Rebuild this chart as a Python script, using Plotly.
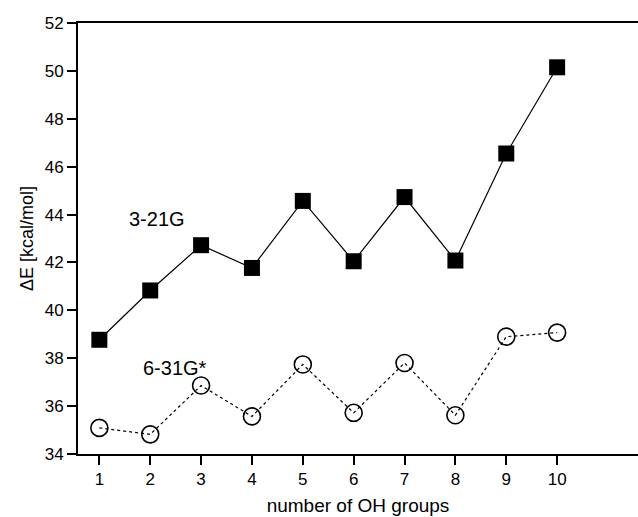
import plotly.graph_objects as go

n_oh = [1, 2, 3, 4, 5, 6, 7, 8, 9, 10]
e_321g = [38.77, 40.83, 42.72, 41.77, 44.57, 42.05, 44.73, 42.08, 46.55, 50.15]
e_631g = [35.09, 34.82, 36.86, 35.57, 37.74, 35.72, 37.8, 35.62, 38.9, 39.07]

label_321g = "3-21G"
label_631g = "6-31G*"

font_family = "Liberation Sans, Arial, sans-serif"

fig = go.Figure()
fig.add_trace(go.Scatter(
    x=n_oh, y=e_321g, mode="lines+markers", name=label_321g,
    line=dict(color="black", width=1.2),
    marker=dict(symbol="square", size=16, color="black", line=dict(width=0)),
    showlegend=False,
))
fig.add_trace(go.Scatter(
    x=n_oh, y=e_631g, mode="lines+markers", name=label_631g,
    line=dict(color="black", width=1.2, dash="dot"),
    marker=dict(symbol="circle-open", size=17, color="black", line=dict(width=1.6, color="black")),
    showlegend=False,
))

fig.add_annotation(x=2.14, y=43.8, text=label_321g, showarrow=False,
                   font=dict(size=20, color="black", family=font_family))
fig.add_annotation(x=2.49, y=37.58, text=label_631g, showarrow=False,
                   font=dict(size=20, color="black", family=font_family))

fig.update_layout(
    width=638, height=517,
    margin=dict(l=78, r=0, t=23, b=63),
    plot_bgcolor="white", paper_bgcolor="white",
    font=dict(family=font_family, color="black"),
)
fig.update_xaxes(
    range=[0.58, 11.59], tickvals=n_oh, ticktext=[str(v) for v in n_oh],
    showgrid=False, zeroline=False,
    showline=True, linecolor="black", linewidth=2, mirror=True,
    ticks="outside", ticklen=9, tickwidth=2, tickcolor="black",
    tickfont=dict(size=17),
    title=dict(text="number of OH groups", font=dict(size=19), standoff=10),
)
fig.update_yaxes(
    range=[34, 52], tickvals=[34, 36, 38, 40, 42, 44, 46, 48, 50, 52],
    showgrid=False, zeroline=False,
    showline=True, linecolor="black", linewidth=2, mirror=False,
    ticks="outside", ticklen=9, tickwidth=2, tickcolor="black",
    tickfont=dict(size=17),
    title=dict(text="ΔE [kcal/mol]", font=dict(size=18), standoff=6),
)

fig.write_html("out.html", config={"displayModeBar": False},
               post_script="document.body.style.margin='0';document.body.style.overflow='hidden';")
